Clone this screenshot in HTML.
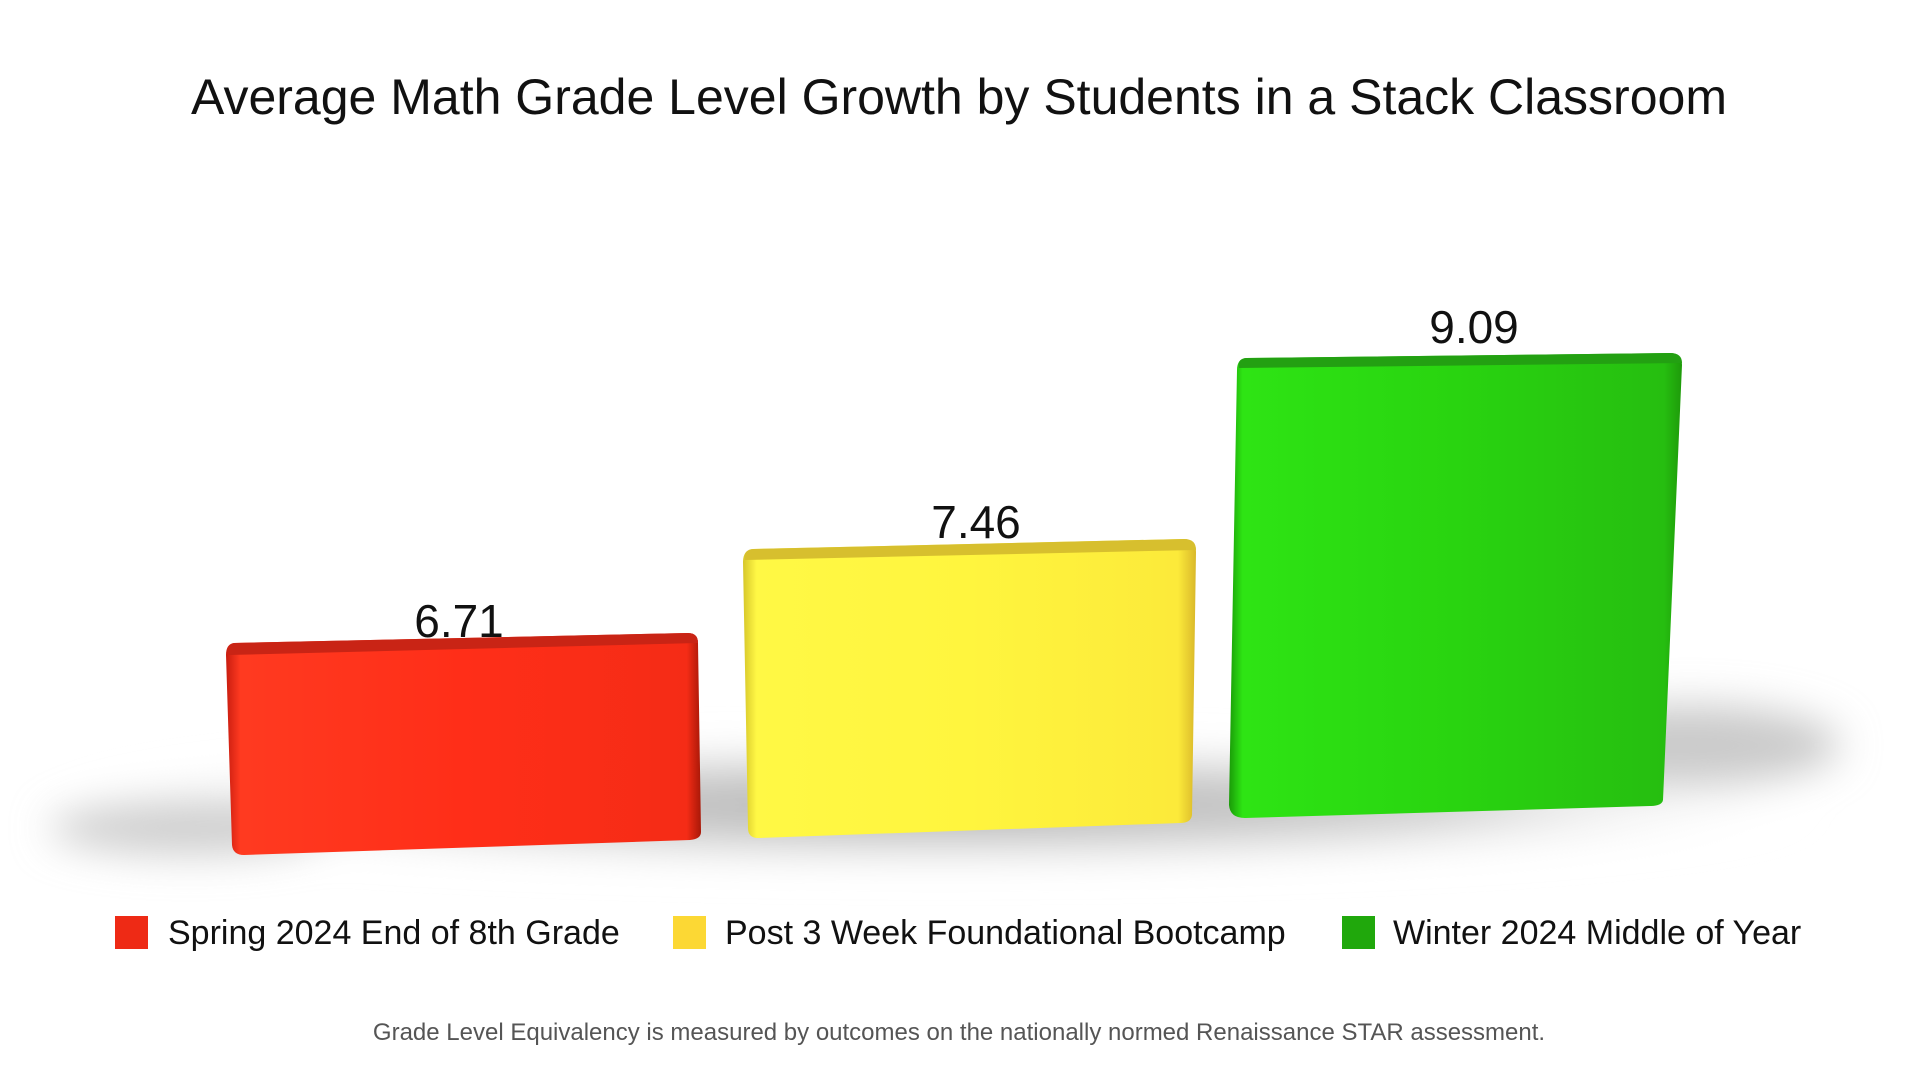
<!DOCTYPE html>
<html><head><meta charset="utf-8"><style>
html,body{margin:0;padding:0;background:#fff;}
svg{display:block}
text{font-family:"Liberation Sans",Arial,sans-serif}
</style></head><body>
<svg width="1920" height="1080" viewBox="0 0 1920 1080" xmlns="http://www.w3.org/2000/svg">
<defs>
<radialGradient id="sh" cx="0.5" cy="0.5" r="0.5">
<stop offset="0" stop-color="#b0b0b0"/><stop offset="0.6" stop-color="#cfcfcf"/><stop offset="1" stop-color="#fff" stop-opacity="0"/>
</radialGradient>
<filter id="blur" x="-20%" y="-200%" width="140%" height="500%"><feGaussianBlur stdDeviation="20"/></filter>
<linearGradient id="gr" x1="0" x2="1"><stop offset="0" stop-color="#c81d10"/><stop offset="0.03" stop-color="#ff3a20"/><stop offset="0.5" stop-color="#ff2e18"/><stop offset="0.97" stop-color="#f52c16"/><stop offset="1" stop-color="#a81808"/></linearGradient>
<linearGradient id="gy" x1="0" x2="1"><stop offset="0" stop-color="#d6c62a"/><stop offset="0.03" stop-color="#fff845"/><stop offset="0.5" stop-color="#fff53e"/><stop offset="0.96" stop-color="#fcea3a"/><stop offset="1" stop-color="#d9b82a"/></linearGradient>
<linearGradient id="gg" x1="0" x2="1"><stop offset="0" stop-color="#1a9a08"/><stop offset="0.03" stop-color="#2ee414"/><stop offset="0.5" stop-color="#29d410"/><stop offset="0.96" stop-color="#26be10"/><stop offset="1" stop-color="#1e9a0a"/></linearGradient>
</defs>
<rect width="1920" height="1080" fill="#fff"/>
<text x="959" y="114" font-size="50" text-anchor="middle" fill="#111">Average Math Grade Level Growth by Students in a Stack Classroom</text>
<g filter="url(#blur)">
<ellipse cx="940" cy="805" rx="880" ry="60" fill="url(#sh)"/>
<ellipse cx="1690" cy="745" rx="150" ry="40" fill="#cacaca"/>
<ellipse cx="190" cy="828" rx="140" ry="26" fill="#cdcdcd"/>
</g>
<path d="M234,643 L688,633 Q698,633 698,643 L701,832 Q701,839 690,840 L244,855 Q233,855 232,845 L226,655 Q226,644 234,643 Z" fill="url(#gr)"/>
<path d="M234,643 L688,633 Q698,633 698,643 L229,655 Q226,645 234,643 Z" fill="#c92415"/>
<path d="M753,549 L1184,539 Q1196,539 1196,552 L1192,815 Q1191,823 1180,823 L758,838 Q748,838 748,828 L743,562 Q743,550 753,549 Z" fill="url(#gy)"/>
<path d="M753,549 L1184,539 Q1196,539 1196,550 L745,560 Q743,550 753,549 Z" fill="#d7bf2e"/>
<path d="M1246,358 L1670,353 Q1682,353 1682,365 L1663,800 Q1662,806 1650,806 L1245,818 Q1230,818 1229,805 L1237,370 Q1237,359 1246,358 Z" fill="url(#gg)"/>
<path d="M1246,358 L1670,353 Q1682,353 1682,363 L1239,368 Q1237,359 1246,358 Z" fill="#23a012"/>
<g font-size="46" text-anchor="middle" fill="#111">
<text x="459" y="637">6.71</text>
<text x="976" y="538">7.46</text>
<text x="1474" y="343">9.09</text>
</g>
<rect x="115" y="916" width="33" height="33" fill="#ee2a15"/>
<text x="168" y="944" font-size="34" fill="#111">Spring 2024 End of 8th Grade</text>
<rect x="673" y="916" width="33" height="33" fill="#fcd834"/>
<text x="725" y="944" font-size="34" fill="#111">Post 3 Week Foundational Bootcamp</text>
<rect x="1342" y="916" width="33" height="33" fill="#20a80c"/>
<text x="1393" y="944" font-size="34" fill="#111">Winter 2024 Middle of Year</text>
<text x="959" y="1040" font-size="24" text-anchor="middle" fill="#555">Grade Level Equivalency is measured by outcomes on the nationally normed Renaissance STAR assessment.</text>
</svg>
</body></html>
